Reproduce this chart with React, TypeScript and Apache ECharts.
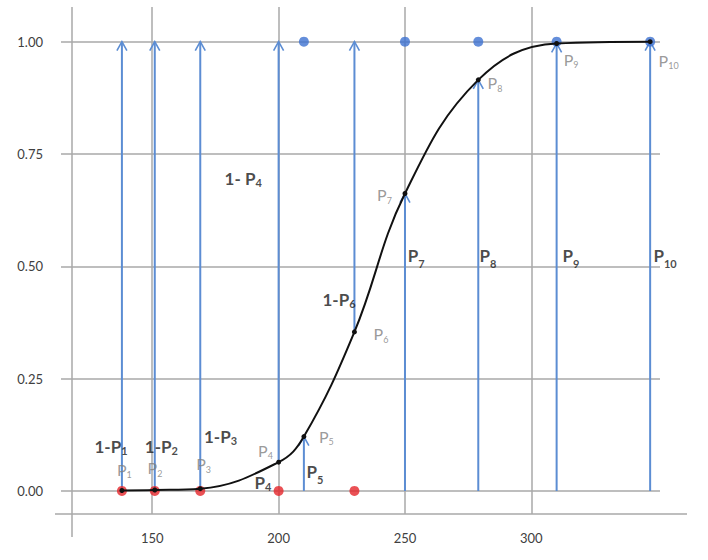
import React, { useEffect, useRef } from "react";
import * as echarts from "echarts";

// ---- data ----
const pointX = [138, 151, 169, 200, 210, 230, 250, 279, 310, 347];
const pointP = [0.001, 0.002, 0.005, 0.064, 0.121, 0.354, 0.662, 0.915, 0.996, 1.0];
const pointClass = [0, 0, 0, 0, 1, 0, 1, 1, 1, 1];
const xTicks = [150, 200, 250, 300];
const yTicks = [0, 0.25, 0.5, 0.75, 1];

// annotation texts (rich-text markup) and their anchors in data units
const grayLabels = [
  { t: "{g|P}{gs|1}", x: 139.0, y: 0.048 },
  { t: "{g|P}{gs|2}", x: 151.1, y: 0.051 },
  { t: "{g|P}{gs|3}", x: 170.3, y: 0.06 },
  { t: "{g|P}{gs|4}", x: 194.8, y: 0.091 },
  { t: "{g|P}{gs|5}", x: 218.9, y: 0.122 },
  { t: "{g|P}{gs|6}", x: 240.5, y: 0.35 },
  { t: "{g|P}{gs|7}", x: 241.9, y: 0.659 },
  { t: "{g|P}{gs|8}", x: 285.6, y: 0.909 },
  { t: "{g|P}{gs|9}", x: 315.7, y: 0.961 },
  { t: "{g|P}{gs|10}", x: 354.3, y: 0.959 },
];
const boldLabels = [
  { t: "{c|1-P}{cs|1}", x: 133.7, y: 0.097 },
  { t: "{c|1-P}{cs|2}", x: 153.6, y: 0.097 },
  { t: "{c|1-P}{cs|3}", x: 177.0, y: 0.12 },
  { t: "{c|1- P}{cs|4}", x: 186.0, y: 0.694 },
  { t: "{c|1-P}{cs|6}", x: 223.9, y: 0.425 },
  { t: "{c|P}{cs|4}", x: 193.8, y: 0.017 },
  { t: "{b|P}{bs|5}", x: 214.4, y: 0.038 },
  { t: "{b|P}{bs|7}", x: 254.4, y: 0.519 },
  { t: "{b|P}{bs|8}", x: 282.8, y: 0.519 },
  { t: "{b|P}{bs|9}", x: 315.7, y: 0.519 },
  { t: "{b|P}{bs|10}", x: 352.9, y: 0.519 },
];

const FONT = "Lato, 'Open Sans', sans-serif";
const GRID_COLOR = "#a9a9a9";
const ARROW_COLOR = "#5c8dd3";

export default function App() {
  const ref = useRef<HTMLDivElement>(null);

  useEffect(() => {
    if (!ref.current) return;
    const chart = echarts.init(ref.current, null, { renderer: "svg" });

    const curveData = pointX.map((x, i) => [x, pointP[i]]);
    const redDots = pointX
      .map((x, i) => (pointClass[i] === 0 ? [x, 0] : null))
      .filter(Boolean);
    const blueDots = pointX
      .map((x, i) => (pointClass[i] === 1 ? [x, 1] : null))
      .filter(Boolean);
    const arrows = pointX.map((x, i) =>
      pointClass[i] === 0 ? [x, pointP[i], 1] : [x, 0, pointP[i]]
    );

    const bold = { fontWeight: "bold", color: "#1a1a1a", fontFamily: FONT };
    const rich = {
      g: { fontSize: 16, color: "#808080", fontFamily: FONT, lineHeight: 20 },
      gs: { fontSize: 9, color: "#808080", fontFamily: FONT, lineHeight: 8, verticalAlign: "bottom" },
      b: { ...bold, fontSize: 17, lineHeight: 22, verticalAlign: "top" },
      bs: { ...bold, fontSize: 11, verticalAlign: "bottom" },
      c: { ...bold, fontSize: 17, lineHeight: 18, verticalAlign: "top" },
      cs: { ...bold, fontSize: 11, verticalAlign: "bottom" },
    };

    const labelItems = [...grayLabels, ...boldLabels].map((l) => ({
      value: [l.x, l.y],
      label: { show: true, formatter: l.t, position: "inside", rich },
    }));

    chart.setOption({
      animation: false,
      backgroundColor: "#ffffff",
      grid: { left: 61, right: 48, top: 7, bottom: 46, containLabel: false },
      xAxis: {
        type: "value",
        min: 113.9,
        max: 350.9,
        axisLine: { show: false },
        axisTick: { show: false, customValues: xTicks },
        splitLine: { show: true, lineStyle: { color: GRID_COLOR, width: 1.5 } },
        axisLabel: {
          customValues: xTicks,
          margin: 17,
          fontSize: 13,
          color: "#404040",
          fontFamily: FONT,
        },
      },
      yAxis: {
        type: "value",
        min: -0.0514,
        max: 1.0772,
        axisLine: { show: false },
        axisTick: { show: false, customValues: yTicks },
        splitLine: { show: true, lineStyle: { color: GRID_COLOR, width: 1.5 } },
        axisLabel: {
          customValues: yTicks,
          margin: 18,
          fontSize: 13,
          color: "#404040",
          fontFamily: FONT,
          formatter: (v: number) => v.toFixed(2),
        },
      },
      graphic: [
        {
          type: "line",
          shape: { x1: 55, y1: 514, x2: 687, y2: 514 },
          style: { stroke: GRID_COLOR, lineWidth: 1.5 },
          z: 1,
        },
        {
          type: "line",
          shape: { x1: 72, y1: 7, x2: 72, y2: 537 },
          style: { stroke: GRID_COLOR, lineWidth: 1.5 },
          z: 1,
        },
      ],
      series: [
        {
          type: "custom",
          data: arrows,
          encode: { x: 0, y: [1, 2] },
          clip: false,
          z: 2,
          renderItem: (params: any, api: any) => {
            const x = api.value(0);
            const p0 = api.coord([x, api.value(1)]);
            const p1 = api.coord([x, api.value(2)]);
            return {
              type: "group",
              children: [
                {
                  type: "line",
                  shape: { x1: p0[0], y1: p0[1], x2: p1[0], y2: p1[1] },
                  style: { stroke: ARROW_COLOR, lineWidth: 2 },
                },
                {
                  type: "polyline",
                  shape: {
                    points: [
                      [p1[0] - 5, p1[1] + 9],
                      [p1[0], p1[1]],
                      [p1[0] + 5, p1[1] + 9],
                    ],
                  },
                  style: { stroke: ARROW_COLOR, lineWidth: 1.6, fill: null },
                },
              ],
            };
          },
        },
        {
          type: "scatter",
          data: redDots,
          symbol: "circle",
          symbolSize: 10,
          itemStyle: { color: "#e5262a" },
          z: 3,
          clip: false,
        },
        {
          type: "scatter",
          data: blueDots,
          symbol: "circle",
          symbolSize: 10,
          itemStyle: { color: "#3d72d1" },
          z: 3,
          clip: false,
        },
        {
          type: "line",
          data: curveData,
          smooth: 0.4,
          symbol: "circle",
          symbolSize: 5,
          showSymbol: true,
          itemStyle: { color: "#111111" },
          lineStyle: { color: "#111111", width: 2 },
          z: 4,
        },
        {
          type: "scatter",
          data: labelItems,
          symbolSize: 0,
          clip: false,
          z: 5,
          silent: true,
        },
      ],
    });

    return () => chart.dispose();
  }, []);

  return (
    <div
      ref={ref}
      style={{ position: "fixed", left: 0, top: 0, width: 708, height: 560, background: "#fff" }}
    />
  );
}
